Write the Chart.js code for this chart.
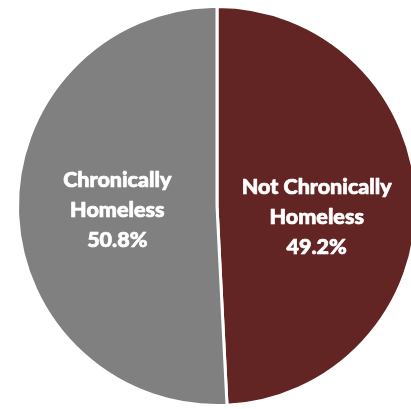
<!DOCTYPE html>
<html>
<head>
<meta charset="utf-8">
<script src="https://cdn.jsdelivr.net/npm/chart.js@4"></script>
<style>
  html, body { margin: 0; padding: 0; background: #fff; overflow: hidden; }
  #wrap { position: absolute; left: 0; top: 0; width: 434px; height: 412px; }
</style>
</head>
<body>
<div id="wrap"><canvas id="pie"></canvas></div>
<script>
// slices go clockwise from 12 o'clock
const categories = [["Not Chronically", "Homeless"], ["Chronically", "Homeless"]];
const shares = [49.2, 50.8];
const sliceColors = ["#632523", "#808080"];

// draws the white labels inside each slice
const sliceLabels = {
  id: "sliceLabels",
  afterDatasetsDraw(chart, args, opts) {
    const ctx = chart.ctx;
    const meta = chart.getDatasetMeta(0);
    ctx.save();
    ctx.fillStyle = "#fff";
    ctx.strokeStyle = "#fff";
    ctx.lineWidth = 0.7;
    ctx.lineJoin = "round";
    ctx.font = "900 21.5px Lato";
    ctx.textAlign = "center";
    ctx.textBaseline = "middle";
    meta.data.forEach((arc, i) => {
      const mid = (arc.startAngle + arc.endAngle) / 2;
      const r = arc.outerRadius * opts.dist;
      const x = arc.x + Math.cos(mid) * r;
      const y = arc.y + Math.sin(mid) * r + opts.nudge[i];
      const lines = categories[i].concat([shares[i].toFixed(1) + "%"]);
      const lh = 30;
      lines.forEach((t, k) => {
        const ly = y + (k - (lines.length - 1) / 2) * lh;
        ctx.fillText(t, x, ly);
        ctx.strokeText(t, x, ly);
      });
    });
    ctx.restore();
  }
};

new Chart(document.getElementById("pie"), {
  type: "pie",
  data: {
    labels: categories,
    datasets: [{
      data: shares,
      backgroundColor: sliceColors,
      borderColor: "#fff",
      borderWidth: 3
    }]
  },
  options: {
    responsive: true,
    maintainAspectRatio: false,
    animation: false,
    layout: { padding: 5 },
    plugins: {
      legend: { display: false },
      tooltip: { enabled: false },
      sliceLabels: { dist: 0.5, nudge: [14, 2] }
    }
  },
  plugins: [sliceLabels]
});
</script>
</body>
</html>
